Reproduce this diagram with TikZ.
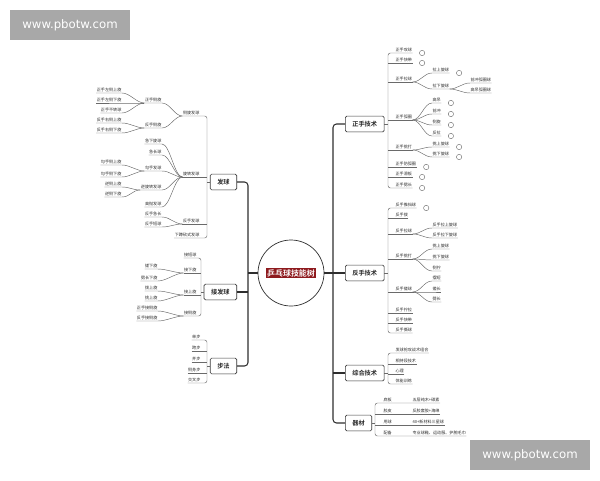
\documentclass[tikz,border=0pt]{standalone}
\usepackage{fontspec}
\setmainfont{Noto Sans CJK SC}[BoldFont={Noto Sans CJK SC Bold}]
\newfontfamily\wmfont{DejaVu Sans}
\usetikzlibrary{positioning,shadows}
\definecolor{lnc}{HTML}{6A6A6A}
\definecolor{trk}{HTML}{2E2E2E}
\definecolor{txt}{HTML}{2A2A2A}
\definecolor{boxc}{HTML}{3C3C3C}
\definecolor{ttl}{HTML}{8E1A1E}
\definecolor{wmg}{HTML}{A8A8A8}
\newcommand\leaffont{\fontsize{3.5}{4}\selectfont}
\newcommand\topicfont{\fontsize{5.3}{6}\selectfont\bfseries}
\begin{document}
\begin{tikzpicture}[x=0.03cm, y=-0.03cm]
    \useasboundingbox (0,0) rectangle (600,480);
    \begin{scope}
      [lc/.style={draw=lnc, line width=0.4pt},
      trunk/.style={draw=trk, line width=0.9pt, rounded corners=3pt},
      rl/.style={anchor=south west, font=\leaffont, text=txt, inner xsep=0.3pt, inner ysep=0.7pt},
      ll/.style={rl, anchor=south east},
      topic/.style={draw=boxc, fill=white, rounded corners=1.2pt, font=\topicfont, text=txt, line width=0.5pt,
        inner xsep=6pt, minimum height=0.47cm, drop shadow={shadow xshift=0.4pt, shadow yshift=-0.4pt, fill=gray!45}},
      mk/.style={circle, draw=gray!80!black, line width=0.35pt, inner sep=0pt, minimum size=1.6mm},
      wm/.style={fill=wmg, text=white, font=\wmfont\fontsize{10}{12}\selectfont, minimum width=3.6cm, minimum height=0.9cm}]
      \node[wm] (wm1) at (70,25) {www.pbotw.com};
      \node[wm] (wm2) at (530,455) {www.pbotw.com};
      \node[circle, draw=trk, line width=0.6pt, minimum size=1.98cm] (root) at (291,273) {};
      \node[fill=ttl, text=white, font=\fontsize{6.8}{8}\selectfont\bfseries, inner sep=1pt] (title) at (root) {乒乓球技能树};
      \node[topic, anchor=west] (zs) at (345,124) {正手技术};
      \node[topic, anchor=west] (fs) at (345,273) {反手技术};
      \node[topic, anchor=west] (zh) at (345,373) {综合技术};
      \node[topic, anchor=west] (qc) at (345,423) {器材};
      \node[topic, anchor=east] (fq) at (237,182) {发球};
      \node[topic, anchor=east] (jf) at (237,292) {接发球};
      \node[topic, anchor=east] (bf) at (237,366) {步法};
      \coordinate (rtp) at (333,273);
      \coordinate (ltp) at (248,273);
      \draw[trunk] (zs.west) -| (rtp) |- (qc.west);
      \draw[trunk] (fq.east) -| (ltp) |- (bf.east);
      \draw[trunk] (root.east) -- (rtp);
      \draw[trunk] (root.west) -- (ltp);
      \foreach \b in {fs,zh} \draw[trunk] (\b.west) -- (\b.west -| rtp);
      \draw[trunk] (jf.east) -- (jf.east -| ltp);

      \foreach \n/\y/\t in {1/53/正手攻球, 2/63/正手快带, 3/82/正手拉球, 4/120/正手弧圈,
        5/150/正手挑打, 6/167/正手防弧圈, 7/177/正手滑板, 8/188/正手劈长}
        \node[rl] (zs\n) at (395,\y) {\t};
      \foreach \n/\y/\t in {31/73/拉上旋球, 32/89/拉下旋球, 41/103/高吊, 42/114/前冲, 43/125/侧旋,
        44/136/反拉, 51/147/挑上旋球, 52/157/挑下旋球}
        \node[rl] (zs\n) at (432,\y) {\t};
      \foreach \n/\y/\t in {321/83/前冲弧圈球, 322/93/高吊弧圈球}
        \node[rl] (zs\n) at (470,\y) {\t};
      \foreach \n/\y/\t in {1/208/反手推挡球, 2/218/反手拨, 3/234/反手拉球, 4/259/反手挑打,
        5/292/反手搓球, 6/313/反手拧拉, 7/323/反手快带, 8/333/反手撕球}
        \node[rl] (fs\n) at (395,\y) {\t};
      \foreach \n/\y/\t in {31/228/反手拉上旋球, 32/238/反手拉下旋球, 41/249/挑上旋球, 42/260/挑下旋球,
        43/271/侧拧, 51/281/摆短, 52/292/搓长, 53/302/劈长}
        \node[rl] (fs\n) at (432,\y) {\t};
      \foreach \n/\y/\t in {1/353/发球抢攻战术组合, 2/364/相持段技术, 3/374/心理, 4/384/体能训练}
        \node[rl] (zh\n) at (395,\y) {\t};
      \foreach \n/\y/\a/\v in {1/403/底板/五层纯木+碳素, 2/414/胶皮/反胶套胶+海绵,
        3/425/用球/40+新材料三星球, 4/436/配备/专业球鞋、运动服、护腕毛巾}
        {
        \node[rl] (qc\n) at (383,\y) {\a};
        \node[rl] (qv\n) at (412,\y) {\v};
        }

      \foreach \n/\y/\t in {1/116/侧旋发球, 2/177/旋转发球, 3/224/反手发球, 4/238/下蹲砍式发球}
        \node[ll] (fq\n) at (200,\y) {\t};
      \foreach \n/\y/\t in {11/103/正手侧旋, 12/128/反手侧旋, 21/144/急下旋球, 22/155/急长球,
        23/171/勾手发球, 24/190/逆旋转发球, 25/207/高抛发球, 31/217/反手急长, 32/227/反手短球}
        \node[ll] (fq\n) at (162,\y) {\t};
      \foreach \n/\y/\t in {111/93/正手左侧上旋, 112/103/正手左侧下旋, 113/113/正手不转球,
        121/123/反手右侧上旋, 122/133/反手右侧下旋, 231/165/勾手侧上旋, 232/177/勾手侧下旋,
        241/187/逆侧上旋, 242/197/逆侧下旋}
        \node[ll] (fq\n) at (122,\y) {\t};
      \foreach \n/\y/\t in {1/258/接短球, 2/273/接下旋, 3/295/接上旋, 4/316/接侧旋}
        \node[ll] (jf\n) at (197,\y) {\t};
      \foreach \n/\y/\t in {21/269/搓下旋, 22/281/劈长下旋, 31/291/拨上旋, 32/301/挑上旋,
        41/311/正手接侧旋, 42/321/反手接侧旋}
        \node[ll] (jf\n) at (158,\y) {\t};
      \foreach \n/\y/\t in {1/340/单步, 2/351/跨步, 3/362/并步, 4/373/侧身步, 5/383/交叉步}
        \node[ll] (bf\n) at (201,\y) {\t};

      \coordinate (zsp) at (388,124);
      \coordinate (fsp) at (388,273);
      \coordinate (zhp) at (388,373);
      \coordinate (qcp) at (375,423);
      \coordinate (fqp) at (207,182);
      \coordinate (jfp) at (201,292);
      \coordinate (bfp) at (207,366);
      \foreach \b/\s in {zs/zsp,fs/fsp,zh/zhp,qc/qcp} \draw[lc] (\b.east) -- (\s);
      \foreach \b/\s in {fq/fqp,jf/jfp,bf/bfp} \draw[lc] (\b.west) -- (\s);
      \draw[lc, rounded corners=2pt] (zs1.south east) -| (zsp) |- (zs8.south east);
      \draw[lc, rounded corners=2pt] (fs1.south east) -| (fsp) |- (fs8.south east);
      \draw[lc, rounded corners=2pt] (zh1.south east) -| (zhp) |- (zh4.south east);
      \draw[lc, rounded corners=2pt] (qv1.south east) -| (qcp) |- (qv4.south east);
      \draw[lc, rounded corners=2pt] (fq1.south west) -| (fqp) |- (fq4.south west);
      \draw[lc, rounded corners=2pt] (jf1.south west) -| (jfp) |- (jf4.south west);
      \draw[lc, rounded corners=2pt] (bf1.south west) -| (bfp) |- (bf5.south west);
      \foreach \c/\s in {zs2/zsp,zs3/zsp,zs4/zsp,zs5/zsp,zs6/zsp,zs7/zsp,fs2/fsp,fs3/fsp,fs4/fsp,
        fs5/fsp,fs6/fsp,fs7/fsp,zh2/zhp,zh3/zhp,qv2/qcp,qv3/qcp}
        \draw[lc] (\c.south east) -- (\c.south east -| \s);
      \foreach \c/\s in {fq2/fqp,fq3/fqp,jf2/jfp,jf3/jfp,bf2/bfp,bf3/bfp,bf4/bfp}
        \draw[lc] (\c.south west) -- (\c.south west -| \s);

      \foreach \p/\c in {zs3/zs31, zs3/zs32, zs32/zs321, zs32/zs322, zs4/zs41, zs4/zs42, zs4/zs43,
        zs4/zs44, zs5/zs51, zs5/zs52, fs3/fs31, fs3/fs32, fs4/fs41, fs4/fs42, fs4/fs43,
        fs5/fs51, fs5/fs52, fs5/fs53}
        \draw[lc] (\p.south east) .. controls +(8,0) and +(-8,0) .. (\c.south west) -- (\c.south east);
      \foreach \p/\c in {fq1/fq11, fq1/fq12, fq11/fq111, fq11/fq112, fq11/fq113, fq12/fq121, fq12/fq122,
        fq2/fq21, fq2/fq22, fq2/fq23, fq2/fq24, fq2/fq25, fq23/fq231, fq23/fq232, fq24/fq241, fq24/fq242,
        fq3/fq31, fq3/fq32, jf2/jf21, jf2/jf22, jf3/jf31, jf3/jf32, jf4/jf41, jf4/jf42}
        \draw[lc] (\p.south west) .. controls +(-8,0) and +(8,0) .. (\c.south east) -- (\c.south west);
      \foreach \c in {zs1, zs2, zs31, zs41, zs42, zs43, zs44, zs51, zs52, zs6, zs7, zs8, fs1}
        \node[mk, right=2mm of \c.south east] (m\c) {};
    \end{scope}
  \end{tikzpicture}
\end{document}
